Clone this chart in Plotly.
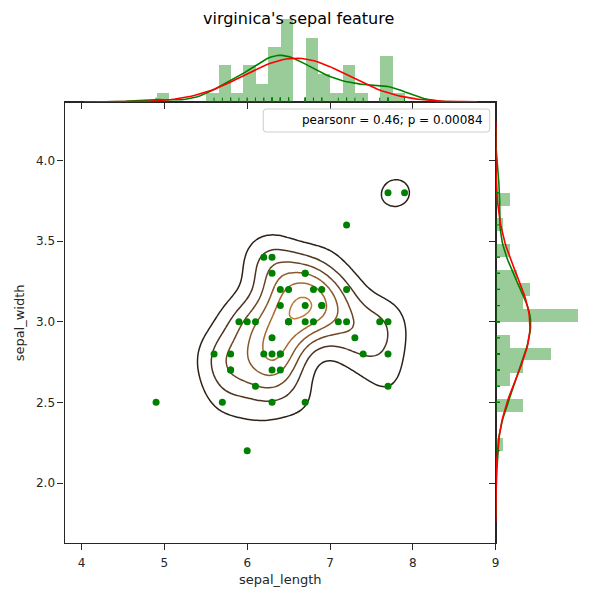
import numpy as np
import plotly.graph_objects as go

# ---------------- data (iris, virginica) ----------------
sepal_length = [6.3, 5.8, 7.1, 6.3, 6.5, 7.6, 4.9, 7.3, 6.7, 7.2, 6.5, 6.4, 6.8, 5.7, 5.8,
                6.4, 6.5, 7.7, 7.7, 6.0, 6.9, 5.6, 7.7, 6.3, 6.7, 7.2, 6.2, 6.1, 6.4, 7.2,
                7.4, 7.9, 6.4, 6.3, 6.1, 7.7, 6.3, 6.4, 6.0, 6.9, 6.7, 6.9, 5.8, 6.8, 6.7,
                6.7, 6.3, 6.5, 6.2, 5.9]
sepal_width = [3.3, 2.7, 3.0, 2.9, 3.0, 3.0, 2.5, 2.9, 2.5, 3.6, 3.2, 2.7, 3.0, 2.5, 2.8,
               3.2, 3.0, 3.8, 2.6, 2.2, 3.2, 2.8, 2.8, 2.7, 3.3, 3.2, 2.8, 3.0, 2.8, 3.0,
               2.8, 3.8, 2.8, 2.8, 2.6, 3.0, 3.4, 3.1, 3.0, 3.1, 3.1, 3.1, 2.7, 3.2, 3.3,
               3.0, 2.5, 3.0, 3.4, 3.0]
x_ticks = [4, 5, 6, 7, 8, 9]
y_ticks = [2.0, 2.5, 3.0, 3.5, 4.0]
y_ticklabels = ["2.0", "2.5", "3.0", "3.5", "4.0"]
title_text = "virginica's sepal feature"
x_label = "sepal_length"
y_label = "sepal_width"
stat_text = "pearsonr = 0.46; p = 0.00084"
n_bins = 20
n_levels = 6
contour_colors = ["#2d2219", "#4d3320", "#6c4625", "#8a582a", "#a6682f", "#c07a36"]

# ---------------- derived statistics ----------------
xa = np.array(sepal_length)
ya = np.array(sepal_width)
n = len(xa)


def support(d, bw, cut=3, gridsize=100):
    return np.linspace(d.min() - cut * bw, d.max() + cut * bw, gridsize)


def bw_scott(d):
    iqr = (np.percentile(d, 75) - np.percentile(d, 25)) / 1.349
    a = min(np.std(d, ddof=1), iqr)
    return 1.059 * a * len(d) ** (-0.2)


def uni_kde(d):
    bw = bw_scott(d)
    g = support(d, bw)
    dens = np.exp(-0.5 * ((g[:, None] - d[None, :]) / bw) ** 2).sum(1) / (len(d) * bw * np.sqrt(2 * np.pi))
    return g, dens


def norm_fit(d):
    bw = len(d) ** (-0.2) * np.std(d, ddof=1)
    g = support(d, bw)
    mu, sd = d.mean(), d.std()
    return g, np.exp(-0.5 * ((g - mu) / sd) ** 2) / (sd * np.sqrt(2 * np.pi))


def hist(d):
    counts, edges = np.histogram(d, bins=n_bins)
    w = edges[1] - edges[0]
    return (edges[:-1] + edges[1:]) / 2, counts / (len(d) * w), w


hx_c, hx_d, hx_w = hist(xa)
hy_c, hy_d, hy_w = hist(ya)
kx_g, kx_d = uni_kde(xa)
ky_g, ky_d = uni_kde(ya)
fx_g, fx_d = norm_fit(xa)
fy_g, fy_d = norm_fit(ya)

# bivariate KDE (product gaussian kernel, per-variable scott bandwidth)
bwx = bw_scott(xa)
bwy = bw_scott(ya)
gx = support(xa, bwx)
gy = support(ya, bwy)
KX = np.exp(-0.5 * ((gx[:, None] - xa[None, :]) / bwx) ** 2)
KY = np.exp(-0.5 * ((gy[:, None] - ya[None, :]) / bwy) ** 2)
Z = (KY @ KX.T) / (n * 2 * np.pi * bwx * bwy)


def maxn_levels(vmin, vmax, nbins, steps=(1, 1.5, 2, 2.5, 3, 4, 5, 6, 8, 10)):
    raw = (vmax - vmin) / nbins
    scale = 10 ** np.floor(np.log10(raw))
    st, bmin = scale, vmin
    for s in steps:
        if s < raw / scale:
            continue
        st = s * scale
        bmin = st * np.floor(vmin / st)
        if bmin + st * nbins >= vmax:
            break
    lev = np.arange(bmin, bmin + st * (nbins + 0.5), st)
    return lev[(lev > vmin) & (lev < vmax)], st


lev, step = maxn_levels(Z.min(), Z.max(), n_levels + 1)
nl = len(lev)
if nl > 1:
    cs = [[i / (nl - 1), contour_colors[min(i, len(contour_colors) - 1)]] for i in range(nl)]
else:
    cs = [[0, contour_colors[0]], [1, contour_colors[0]]]

# ---------------- layout geometry (pixels) ----------------
W = H = 600
L, R, T, B = 65, 499, 102, 543
MR, MT = 586, 15


def PX(v):
    return v / W


def PY(v):
    return 1 - v / H


top_max = 1.05 * max(hx_d.max(), kx_d.max(), fx_d.max())
right_max = 1.05 * max(hy_d.max(), ky_d.max(), fy_d.max())

GREEN = "#008000"
BAR = "rgba(0,128,0,0.4)"
RED = "#ff0000"
INK = "#262626"

fig = go.Figure()

# top marginal
fig.add_trace(go.Bar(x=hx_c, y=hx_d, width=hx_w, marker=dict(color=BAR, line=dict(width=0)),
                     xaxis="x2", yaxis="y2", hoverinfo="skip"))
fig.add_trace(go.Scatter(x=kx_g, y=kx_d, mode="lines", line=dict(color=GREEN, width=1.6),
                         xaxis="x2", yaxis="y2"))
fig.add_trace(go.Scatter(x=fx_g, y=fx_d, mode="lines", line=dict(color=RED, width=1.6),
                         xaxis="x2", yaxis="y2"))
rx, ry = [], []
for v in xa:
    rx += [v, v, None]
    ry += [0, 0.05 * top_max, None]
fig.add_trace(go.Scatter(x=rx, y=ry, mode="lines", line=dict(color=GREEN, width=1),
                         xaxis="x2", yaxis="y2"))

# right marginal
fig.add_trace(go.Bar(y=hy_c, x=hy_d, width=hy_w, orientation="h",
                     marker=dict(color=BAR, line=dict(width=0)),
                     xaxis="x3", yaxis="y3", hoverinfo="skip"))
fig.add_trace(go.Scatter(x=ky_d, y=ky_g, mode="lines", line=dict(color=GREEN, width=1.6),
                         xaxis="x3", yaxis="y3"))
fig.add_trace(go.Scatter(x=fy_d, y=fy_g, mode="lines", line=dict(color=RED, width=1.6),
                         xaxis="x3", yaxis="y3"))
rx, ry = [], []
for v in ya:
    rx += [0, 0.05 * right_max, None]
    ry += [v, v, None]
fig.add_trace(go.Scatter(x=rx, y=ry, mode="lines", line=dict(color=GREEN, width=1),
                         xaxis="x3", yaxis="y3"))

# joint
fig.add_trace(go.Scatter(x=xa, y=ya, mode="markers",
                         marker=dict(color=GREEN, size=7, line=dict(width=0)),
                         xaxis="x", yaxis="y"))
fig.add_trace(go.Contour(x=gx, y=gy, z=Z, autocontour=False,
                         contours=dict(start=lev[0], end=lev[-1] + step * 0.01, size=step,
                                       coloring="lines"),
                         colorscale=cs, zauto=False, zmin=lev[0], zmax=lev[-1],
                         line=dict(width=1.5), showscale=False, hoverinfo="skip",
                         xaxis="x", yaxis="y"))

axis_common = dict(showgrid=False, zeroline=False, ticks="outside", ticklen=6, tickwidth=1.25,
                   tickcolor=INK, linecolor=INK, linewidth=1.25, showline=True,
                   tickfont=dict(family="DejaVu Sans", size=12, color=INK))

x_range = [3.795, 9.0]
y_range = [1.628, 4.362]

fig.update_layout(
    width=W, height=H, margin=dict(l=0, r=0, t=0, b=0),
    paper_bgcolor="white", plot_bgcolor="rgba(0,0,0,0)",
    showlegend=False, barmode="overlay", bargap=0,
    xaxis=dict(domain=[PX(L), PX(R)], range=x_range, anchor="y", mirror=True,
               tickvals=x_ticks, ticktext=[str(t) for t in x_ticks], ticklabelstandoff=2,
               **axis_common),
    yaxis=dict(domain=[PY(B), PY(T)], range=y_range, anchor="x", mirror=True,
               tickvals=y_ticks, ticktext=y_ticklabels, **axis_common),
    xaxis2=dict(domain=[PX(L), PX(R)], range=x_range, anchor="y2", tickvals=x_ticks,
                showticklabels=False, **axis_common),
    yaxis2=dict(domain=[PY(T), PY(MT)], range=[0, top_max], anchor="x2", visible=False),
    xaxis3=dict(domain=[PX(R), PX(MR)], range=[0, right_max], anchor="y3", visible=False),
    yaxis3=dict(domain=[PY(B), PY(T)], range=y_range, anchor="x3", side="left",
                tickvals=y_ticks, showticklabels=False, **axis_common),
)

x0, x1, y0, y1 = PX(265), PX(493), PY(132), PY(109)
r = 3 / W
path = (f"M {x0 + r},{y0} L {x1 - r},{y0} Q {x1},{y0} {x1},{y0 + r} "
        f"L {x1},{y1 - r} Q {x1},{y1} {x1 - r},{y1} L {x0 + r},{y1} "
        f"Q {x0},{y1} {x0},{y1 - r} L {x0},{y0 + r} Q {x0},{y0} {x0 + r},{y0} Z")
fig.add_shape(type="path", path=path, xref="paper", yref="paper",
              line=dict(color="#cccccc", width=1), fillcolor="rgba(255,255,255,0.8)",
              layer="above")

fig.add_annotation(x=PX(488), y=PY(120.5), xref="paper", yref="paper", text=stat_text,
                   showarrow=False, xanchor="right", yanchor="middle",
                   font=dict(family="DejaVu Sans", size=12, color="black"))
fig.add_annotation(x=PX(300), y=PY(19), xref="paper", yref="paper", text=title_text,
                   showarrow=False, xanchor="center", yanchor="middle",
                   font=dict(family="DejaVu Sans", size=16, color="black"))
fig.add_annotation(x=PX((L + R) / 2), y=PY(579), xref="paper", yref="paper", text=x_label,
                   showarrow=False, xanchor="center", yanchor="middle",
                   font=dict(family="DejaVu Sans", size=13, color=INK))
fig.add_annotation(x=PX(20), y=PY((T + B) / 2), xref="paper", yref="paper", text=y_label,
                   showarrow=False, xanchor="center", yanchor="middle", textangle=-90,
                   font=dict(family="DejaVu Sans", size=13, color=INK))

fig.write_html("out.html")
